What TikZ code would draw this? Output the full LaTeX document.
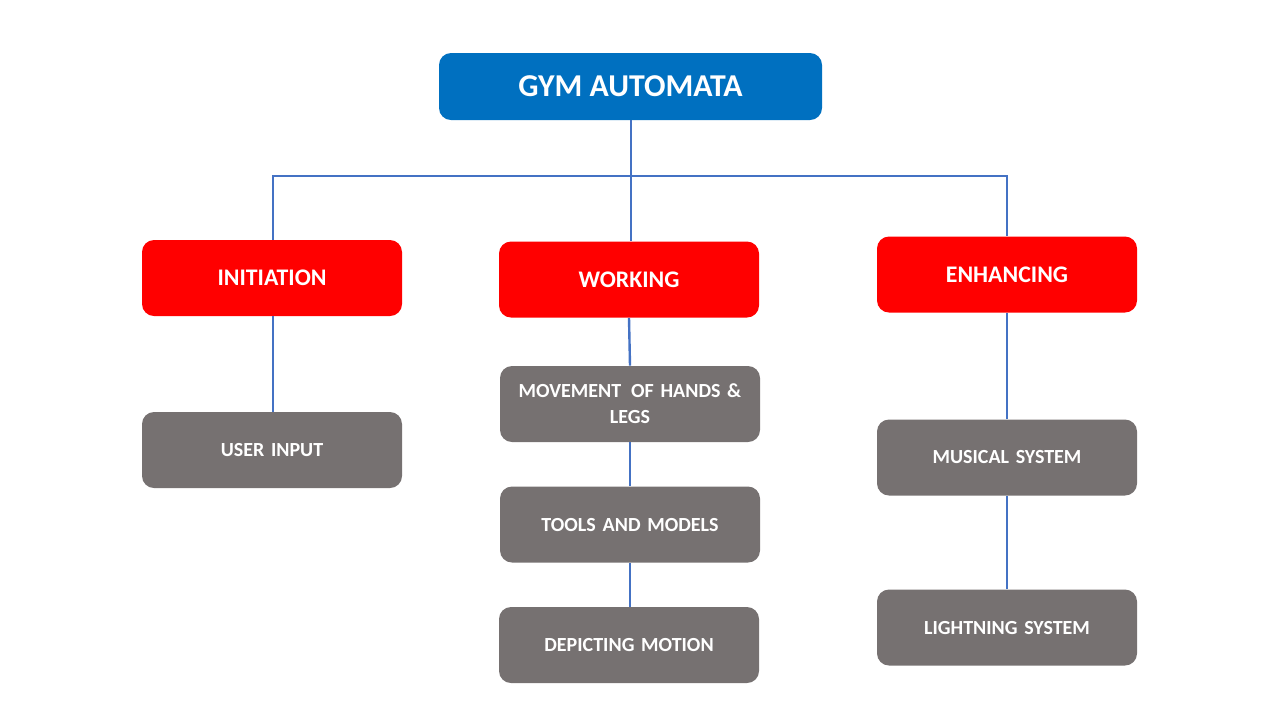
\documentclass[tikz,border=0pt]{standalone}
\usepackage{fontspec}
\setmainfont{Carlito}
\definecolor{topblue}{HTML}{0070C0}
\definecolor{headred}{HTML}{FF0000}
\definecolor{itemgray}{HTML}{767171}
\definecolor{linkblue}{HTML}{4472C4}
\begin{document}
\begin{tikzpicture}[x=0.5pt,y=-0.5pt,
  box/.style={rounded corners=6pt, minimum width=130pt, minimum height=38pt,
    text=white, font=\bfseries, align=center, inner sep=2pt},
  rootbox/.style={box, fill=topblue, minimum width=191.5pt, minimum height=33.5pt, font=\bfseries\fontsize{15.9}{18}\selectfont},
  headbox/.style={box, fill=headred, font=\bfseries\fontsize{11.9}{14}\selectfont},
  itembox/.style={box, fill=itemgray, text width=126pt, font=\bfseries\fontsize{10}{13}\selectfont},
  link/.style={draw=linkblue, line width=1.2pt}]
\useasboundingbox (0,0) rectangle (1280,720);
% root
\node[rootbox] (gym) at (630.5,86.5) {GYM AUTOMATA};
% branch headings
\node[headbox] (init) at (272,278) {INITIATION};
\node[headbox] (work) at (629,279.5) {WORKING};
\node[headbox] (enh) at (1007,274.5) {ENHANCING};
% leaf items
\node[itembox] (user) at (272,450) {USER INPUT};
\node[itembox] (move) at (630,404) {MOVEMENT\hspace{0.5em}OF HANDS \&\\LEGS};
\node[itembox] (tools) at (630,524.5) {TOOLS\hspace{0.35em}AND MODELS};
\node[itembox] (depict) at (629,645) {DEPICTING MOTION};
\node[itembox] (music) at (1007,457.5) {MUSICAL SYSTEM};
\node[itembox] (light) at (1007,627.5) {LIGHTNING SYSTEM};
% connectors
\coordinate (bus) at (631,176);
\draw[link] ([xshift=0.5pt]init.north) -- ([xshift=0.5pt]init.north |- bus) -- (enh.north |- bus) -- (enh.north);
\draw[link] (gym.south -| bus) -- (work.north -| bus);
\draw[link] ([xshift=0.5pt]init.south) -- ([xshift=0.5pt]user.north);
\draw[link] (work.south) -- (move.north);
\draw[link] (move.south) -- (tools.north);
\draw[link] (tools.south) -- ([xshift=0.5pt]depict.north);
\draw[link] (enh.south) -- (music.north);
\draw[link] (music.south) -- (light.north);
\end{tikzpicture}
\end{document}
